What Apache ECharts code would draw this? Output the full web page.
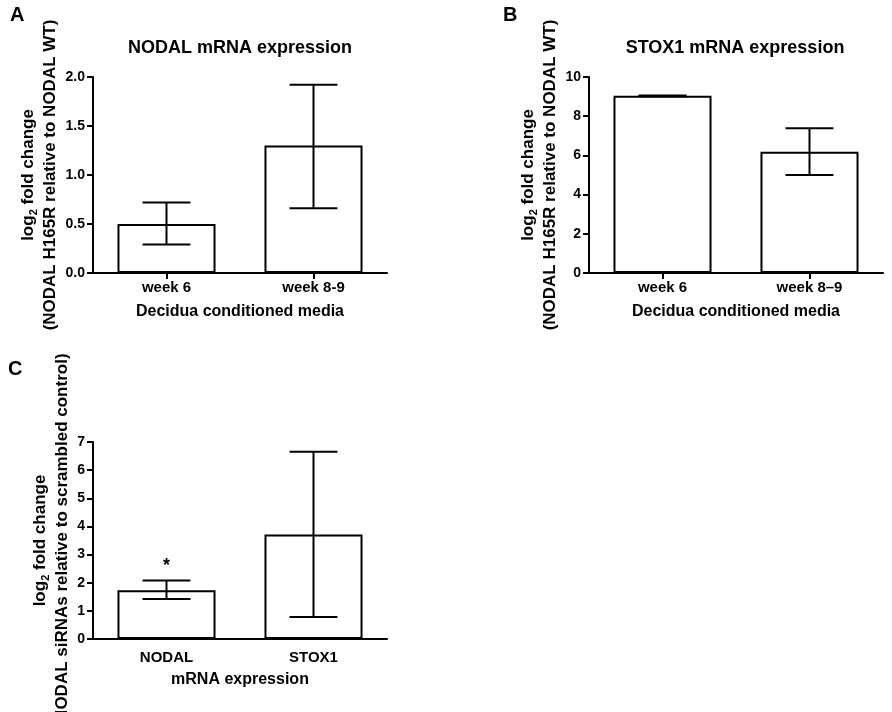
<!DOCTYPE html>
<html>
<head>
<meta charset="utf-8">
<script src="https://cdn.jsdelivr.net/npm/echarts@6/dist/echarts.min.js"></script>
<style>
  html, body { margin: 0; padding: 0; background: #fff; }
  #chart { width: 892px; height: 712px; }
</style>
</head>
<body>
<div id="chart"></div>
<script>
// panel A - NODAL mRNA expression
const catsA = ['week 6', 'week 8-9'];
const meanA = [0.50, 1.30];
const lowA = [0.29, 0.66];
const highA = [0.72, 1.92];

// panel B - STOX1 mRNA expression
const catsB = ['week 6', 'week 8\u20139'];
const meanB = [9.04, 6.19];
const lowB = [9.02, 5.00];
const highB = [9.06, 7.39];

// panel C - siRNA knockdown
const catsC = ['NODAL', 'STOX1'];
const meanC = [1.73, 3.71];
const lowC = [1.42, 0.78];
const highC = [2.08, 6.65];
const marksC = ['*', ''];

const font = 'Liberation Sans, Arial, sans-serif';
const black = '#000';

const myChart = echarts.init(document.getElementById('chart'));

function errData(low, high) {
    return low.map(function (v, i) { return [i, v, high[i]]; });
}

function makeErr(marks) {
    return function (params, api) {
        const x = api.value(0);
        const hi = api.coord([x, api.value(2)]);
        const lo = api.coord([x, api.value(1)]);
        const half = api.size([1, 0])[0] * 0.163;
        const style = { stroke: black, lineWidth: 2 };
        const children = [
            { type: 'line', shape: { x1: hi[0], y1: hi[1], x2: lo[0], y2: lo[1] }, style: style },
            { type: 'line', shape: { x1: hi[0] - half, y1: hi[1], x2: hi[0] + half, y2: hi[1] }, style: style },
            { type: 'line', shape: { x1: lo[0] - half, y1: lo[1], x2: lo[0] + half, y2: lo[1] }, style: style }
        ];
        const m = marks ? marks[params.dataIndex] : '';
        if (m) {
            // asterisk sits above the upper cap
            children.push({
                type: 'text',
                style: {
                    text: m, x: hi[0], y: hi[1] - 5, align: 'center', verticalAlign: 'bottom',
                    fontSize: 18, fontWeight: 'bold', fontFamily: font, fill: black
                }
            });
        }
        return { type: 'group', children: children };
    };
}

const nameStyle = {
    fontSize: 17, fontWeight: 'bold', fontFamily: font, color: black, lineHeight: 22,
    rich: { sub: { fontSize: 11, fontWeight: 'bold', fontFamily: font, verticalAlign: 'bottom', lineHeight: 22 } }
};

function xAxis(idx, data, withTicks, labelMargin, name, gap) {
    return {
        type: 'category', gridIndex: idx, data: data,
        axisLine: { lineStyle: { color: black, width: 2 } },
        axisTick: { show: withTicks, alignWithLabel: true, length: 6, lineStyle: { color: black, width: 2 } },
        axisLabel: { fontSize: 15, fontWeight: 'bold', fontFamily: font, color: black, margin: labelMargin },
        name: name, nameLocation: 'middle', nameGap: gap,
        nameTextStyle: { fontSize: 16, fontWeight: 'bold', fontFamily: font, color: black }
    };
}

function yAxis(idx, max, interval, name, gap, fmt) {
    return {
        type: 'value', gridIndex: idx, min: 0, max: max, interval: interval,
        axisLine: { show: true, lineStyle: { color: black, width: 2 } },
        axisTick: { show: true, length: 6, lineStyle: { color: black, width: 2 } },
        splitLine: { show: false },
        axisLabel: { fontSize: 14, fontWeight: 'bold', fontFamily: font, color: black, margin: 8, formatter: fmt },
        name: name, nameLocation: 'middle', nameGap: gap,
        nameTextStyle: nameStyle
    };
}

function bars(idx, data) {
    return {
        type: 'bar', xAxisIndex: idx, yAxisIndex: idx, data: data, barWidth: '66.7%',
        itemStyle: { color: '#fff', borderColor: black, borderWidth: 2 },
        silent: true, z: 2
    };
}

function errs(idx, low, high, marks) {
    return {
        type: 'custom', xAxisIndex: idx, yAxisIndex: idx,
        data: errData(low, high), renderItem: makeErr(marks),
        silent: true, z: 3
    };
}

const titleStyle = { fontSize: 18, fontWeight: 'bold', fontFamily: font, color: black };
const letterStyle = { fontSize: 20, fontWeight: 'bold', fontFamily: font, color: black };

const option = {
    backgroundColor: '#fff',
    animation: false,
    title: [
        { text: 'NODAL mRNA expression', left: 240, top: 39, textAlign: 'center', padding: 0, textStyle: titleStyle },
        { text: 'STOX1 mRNA expression', left: 735, top: 39, textAlign: 'center', padding: 0, textStyle: titleStyle },
        { text: 'A', left: 10, top: 5, padding: 0, textStyle: letterStyle },
        { text: 'B', left: 503, top: 5, padding: 0, textStyle: letterStyle },
        { text: 'C', left: 8, top: 359, padding: 0, textStyle: letterStyle }
    ],
    grid: [
        { left: 93, top: 77, width: 294, height: 196, outerBoundsMode: 'none' },
        { left: 589, top: 77, width: 294, height: 196, outerBoundsMode: 'none' },
        { left: 93, top: 442, width: 294, height: 197, outerBoundsMode: 'none' }
    ],
    xAxis: [
        xAxis(0, catsA, true, 7, 'Decidua conditioned media', 31),
        xAxis(1, catsB, true, 7, 'Decidua conditioned media', 31),
        xAxis(2, catsC, false, 11, 'mRNA expression', 33)
    ],
    yAxis: [
        yAxis(0, 2, 0.5, 'log{sub|2} fold change\n(NODAL H165R relative to NODAL WT)', 29,
            function (v) { return v.toFixed(1); }),
        yAxis(1, 10, 2, 'log{sub|2} fold change\n(NODAL H165R relative to NODAL WT)', 25),
        yAxis(2, 7, 1, 'log{sub|2} fold change\n(NODAL siRNAs relative to scrambled control)', 10)
    ],
    series: [
        bars(0, meanA), errs(0, lowA, highA),
        bars(1, meanB), errs(1, lowB, highB),
        bars(2, meanC), errs(2, lowC, highC, marksC)
    ]
};

myChart.setOption(option);
</script>
</body>
</html>
